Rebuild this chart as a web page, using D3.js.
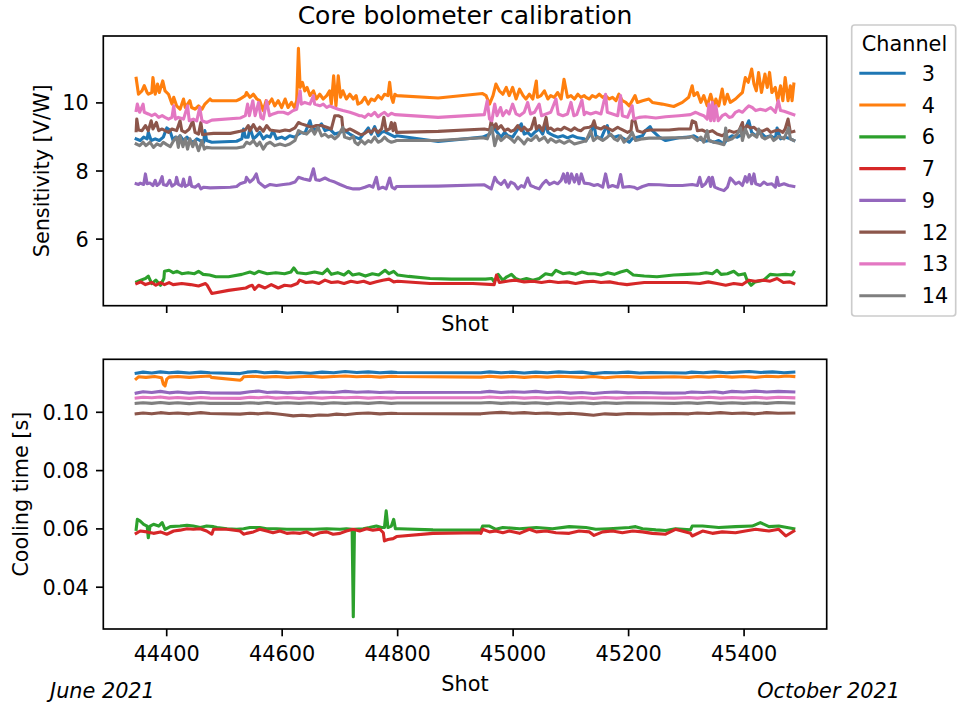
<!DOCTYPE html>
<html><head><meta charset="utf-8">
<script src="https://cdn.jsdelivr.net/npm/d3@7"></script>
<style>body{margin:0;background:#fff} svg{display:block} text{font-family:"DejaVu Sans",sans-serif}</style>
</head><body><svg id="c" width="957" height="706"></svg>
<script>
const channels = ["3","4","6","7","9","12","13","14"];
const shotTicks = [44400,44600,44800,45000,45200,45400];
const sensTicks = [6,8,10];
const coolTicks = [0.04,0.06,0.08,0.10];
const palette = ["#1f77b4","#ff7f0e","#2ca02c","#d62728","#9467bd","#8c564b","#e377c2","#7f7f7f"];

// Sensitivity [V/W] per channel: [shot, value]
const sens3 = [[44348,8.93],[44355,8.88],[44361,8.98],[44367,8.93],[44369,9.12],[44374,8.88],[44381,8.93],[44388,8.88],[44395,8.98],[44401,9.25],[44406,9.19],[44412,8.88],[44416,8.98],[44421,8.93],[44424,9.02],[44430,8.88],[44436,8.98],[44441,8.88],[44447,8.83],[44453,8.93],[44459,8.88],[44465,8.83],[44467,9.17],[44470,8.88],[44479,8.83],[44522,8.86],[44531,8.93],[44534,9.22],[44537,8.98],[44542,8.98],[44545,9.27],[44551,8.93],[44557,9.02],[44562,9.12],[44568,8.93],[44574,9.02],[44580,8.98],[44585,9.17],[44591,8.93],[44600,8.98],[44606,8.93],[44614,9.02],[44623,8.98],[44629,9.07],[44634,9.12],[44640,9.09],[44649,9.46],[44653,9.19],[44660,9.22],[44669,9.37],[44675,9.17],[44683,9.22],[44692,9.07],[44701,9.12],[44709,9.17],[44718,9.07],[44727,8.98],[44735,8.93],
[44744,9.12],[44750,9.25],[44755,9.07],[44761,9.29],[44767,9.02],[44773,9.12],[44778,9.15],[44784,9.09],[44790,9.04],[44796,8.99],[44799,9.02],[44871,8.85],[44948,8.98],[44960,9.07],[44966,9.32],[44971,9.17],[44980,8.98],[44986,9.12],[44992,9.02],[45000,8.98],[45009,9.22],[45015,9.37],[45020,9.07],[45026,9.12],[45032,9.02],[45038,9.12],[45046,9.22],[45052,9.07],[45058,9.37],[45061,9.12],[45066,9.07],[45072,9.02],[45078,8.98],[45087,9.02],[45095,8.96],[45104,9.02],[45113,8.96],[45124,8.93],
[45127,8.88],[45133,9.02],[45141,9.37],[45144,9.02],[45153,8.93],[45159,9.17],[45164,9.32],[45167,9.07],[45176,8.98],[45184,9.02],[45193,8.93],[45202,8.83],[45207,8.93],[45216,8.98],[45225,9.02],[45230,9.17],[45238,9.29],[45242,9.17],[45254,8.98],[45265,8.88],[45288,8.96],[45305,8.98],[45314,9.02],[45323,8.93],[45334,8.86],[45340,8.88],[45349,8.83],[45357,8.88],[45366,8.78],[45372,8.93],[45380,9.02],[45389,8.98],[45398,9.07],[45403,9.22],[45409,9.46],[45414,9.12],[45421,9.02],[45429,9.12],[45438,8.98],[45447,9.02],[45455,8.93],[45458,9.25],[45464,8.93],[45472,8.98],[45481,8.93],[45487,8.88]];
const sens4 = [[44348,10.71],[44352,10.24],[44358,10.34],[44362,10.49],[44367,10.29],[44369,10.24],[44375,10.29],[44377,10.73],[44381,10.24],[44385,10.54],[44388,10.29],[44394,10.63],[44398,10.34],[44404,10.24],[44410,9.95],[44413,10.15],[44418,9.90],[44424,9.80],[44430,10.10],[44433,9.85],[44441,10.05],[44444,9.85],[44450,9.80],[44456,9.90],[44462,9.80],[44467,9.95],[44476,10.10],[44479,10.05],[44522,10.05],[44528,10.10],[44537,10.20],[44539,10.29],[44545,10.15],[44551,10.24],[44557,10.10],[44562,10.05],[44568,9.76],[44573,10.05],[44577,9.95],[44583,10.10],[44588,9.90],[44594,10.05],[44600,9.85],[44606,10.10],[44611,9.85],[44617,10.00],[44622,9.85],[44626,10.05],[44629,11.59],[44632,10.44],[44636,10.59],[44640,10.34],[44644,10.44],[44649,10.20],[44655,10.34],[44660,10.10],[44666,10.24],[44672,10.10],[44678,10.20],[44683,10.34],[44686,9.95],[44690,10.78],[44694,9.90],[44698,10.78],[44702,10.15],[44706,10.34],[44712,10.10],[44718,10.24],[44724,10.10],[44729,10.20],
[44732,9.95],[44738,10.00],[44744,10.15],[44750,9.95],[44755,10.10],[44761,10.05],[44767,10.20],[44773,10.10],[44778,10.24],[44784,10.20],[44787,10.59],[44790,10.15],[44793,10.00],[44796,10.24],[44799,10.20],[44871,10.13],[44948,10.26],[44954,10.20],[44960,9.95],[44966,10.20],[44971,10.54],[44977,10.34],[44983,10.24],[44989,10.44],[44994,10.20],[45000,10.44],[45006,10.10],[45012,10.39],[45018,10.20],[45023,10.10],[45029,10.24],[45035,10.10],[45041,10.63],[45043,10.15],[45049,10.20],[45055,10.34],[45061,10.10],[45066,10.20],[45072,10.15],[45078,10.29],[45084,10.10],[45089,10.68],[45095,10.15],[45101,10.20],[45107,10.10],[45113,10.24],[45118,10.15],[45124,10.20],
[45127,10.15],[45133,10.10],[45138,10.20],[45144,10.15],[45150,10.24],[45156,10.15],[45161,10.20],[45167,10.10],[45173,10.15],[45179,10.05],[45184,10.24],[45190,10.05],[45196,10.00],[45202,9.90],[45207,10.05],[45212,10.20],[45216,10.00],[45225,10.05],[45236,10.10],[45242,10.00],[45259,9.95],[45279,9.88],[45294,10.00],[45305,10.15],[45311,10.49],[45314,10.20],[45320,10.29],[45326,10.00],[45331,10.20],[45337,9.90],[45343,10.24],[45349,9.85],[45352,10.10],[45357,9.90],[45363,10.39],[45367,9.95],[45372,10.24],[45377,10.00],[45386,10.10],[45392,10.20],[45398,10.29],[45403,10.73],[45408,10.59],[45414,10.98],[45418,10.54],[45422,10.34],[45426,10.88],[45431,10.29],[45437,10.83],[45441,10.44],[45445,10.88],[45449,10.29],[45455,10.44],[45459,10.05],[45464,10.49],[45468,10.05],[45472,10.73],[45477,10.05],[45481,10.49],[45484,10.05],[45487,10.54]];
const sens6 = [[44349,4.73],[44356,4.78],[44364,4.83],[44369,4.90],[44375,4.68],[44382,4.78],[44390,4.63],[44396,4.83],[44397,5.04],[44405,5.07],[44412,5.00],[44419,5.04],[44427,4.97],[44438,5.00],[44449,4.97],[44456,5.04],[44464,4.95],[44475,4.93],[44486,4.88],[44508,4.88],[44531,4.95],[44545,5.02],[44553,4.97],[44560,5.04],[44575,4.97],[44590,5.00],[44605,4.97],[44616,5.02],[44621,5.14],[44627,5.00],[44642,4.97],[44657,5.02],[44671,4.97],[44679,5.10],[44686,4.95],[44697,5.00],[44708,4.93],[44716,5.04],[44723,4.93],[44734,4.97],[44745,4.90],[44757,4.97],[44768,4.93],[44779,5.07],[44786,4.97],[44794,5.04],[44801,4.93],[44820,4.89],[44857,4.83],[44894,4.81],[44931,4.81],[44953,4.81],[44964,4.83],[44968,4.73],[44975,4.95],[44983,4.78],[44990,4.88],[44998,4.95],[45005,4.83],[45013,4.78],[45024,4.83],[45035,4.78],[45046,4.83],[45057,4.97],[45068,4.93],[45075,5.07],[45087,4.97],[45098,5.00],[45109,4.95],[45120,5.02],[45131,4.97],[45142,4.97],[45153,4.93],[45165,5.00],[45176,4.95],[45187,5.02],[45198,5.07],[45209,4.93],[45228,4.90],[45250,4.88],[45279,4.93],[45302,4.95],[45324,4.97],[45335,5.00],[45346,4.97],[45354,5.07],[45361,4.95],[45372,4.97],[45383,5.04],[45391,4.93],[45402,4.97],[45406,4.78],[45413,4.63],[45420,4.73],[45435,4.78],[45446,4.95],[45458,4.93],[45473,4.95],[45484,4.93],[45487,5.02]];
const sens7 = [[44349,4.68],[44356,4.73],[44364,4.65],[44375,4.71],[44382,4.63],[44390,4.71],[44397,4.65],[44405,4.71],[44412,4.65],[44427,4.68],[44442,4.65],[44456,4.61],[44468,4.68],[44471,4.63],[44479,4.39],[44508,4.48],[44538,4.55],[44545,4.61],[44549,4.63],[44553,4.51],[44560,4.63],[44571,4.55],[44582,4.65],[44594,4.55],[44605,4.63],[44616,4.61],[44627,4.68],[44631,4.78],[44642,4.71],[44653,4.73],[44664,4.68],[44675,4.78],[44686,4.71],[44697,4.73],[44708,4.68],[44720,4.75],[44731,4.71],[44742,4.75],[44753,4.68],[44764,4.73],[44775,4.78],[44786,4.81],[44794,4.73],[44801,4.75],[44857,4.68],[44931,4.68],[44968,4.65],[44972,4.93],[44977,4.71],[44990,4.75],[45005,4.78],[45020,4.73],[45035,4.75],[45050,4.71],[45064,4.75],[45079,4.71],[45094,4.73],[45109,4.68],[45124,4.73],[45139,4.75],[45153,4.71],[45168,4.73],[45183,4.68],[45198,4.65],[45213,4.68],[45228,4.71],[45265,4.71],[45302,4.71],[45324,4.68],[45339,4.73],[45354,4.68],[45369,4.63],[45383,4.68],[45398,4.65],[45409,4.78],[45420,4.75],[45435,4.78],[45446,4.75],[45458,4.83],[45469,4.71],[45480,4.73],[45487,4.68]];
const sens9 = [[44348,7.61],[44352,7.59],[44355,7.63],[44361,7.59],[44364,7.90],[44367,7.61],[44372,7.63],[44377,7.56],[44381,7.71],[44384,7.56],[44388,7.61],[44393,7.82],[44395,7.59],[44401,7.56],[44406,7.71],[44410,7.54],[44416,7.61],[44418,7.80],[44421,7.59],[44427,7.54],[44430,7.75],[44433,7.53],[44439,7.59],[44441,7.80],[44444,7.54],[44450,7.51],[44456,7.59],[44460,7.46],[44465,7.51],[44476,7.49],[44511,7.51],[44522,7.53],[44528,7.61],[44537,7.66],[44539,7.80],[44545,7.66],[44551,7.75],[44556,7.90],[44560,7.66],[44565,7.59],[44571,7.51],[44580,7.59],[44591,7.56],[44603,7.59],[44614,7.61],[44623,7.66],[44629,7.80],[44638,7.75],[44649,7.71],[44655,8.05],[44659,7.73],[44666,7.71],[44675,7.78],[44683,7.71],[44692,7.66],[44701,7.59],[44712,7.51],[44724,7.46],
[44735,7.46],[44744,7.51],[44752,7.56],[44758,7.51],[44764,7.80],[44768,7.46],[44775,7.51],[44781,7.46],[44787,7.78],[44791,7.51],[44796,7.46],[44799,7.53],[44871,7.54],[44951,7.58],[44963,7.46],[44969,7.80],[44974,7.66],[44980,7.59],[44986,7.71],[44992,7.51],[44997,7.66],[45003,7.61],[45009,7.46],[45015,7.56],[45020,7.51],[45026,7.78],[45031,7.56],[45038,7.51],[45046,7.46],[45052,7.61],[45058,7.71],[45064,7.59],[45072,7.66],[45078,7.61],[45084,7.71],[45088,7.90],[45092,7.66],[45095,7.92],[45098,7.63],[45102,7.90],[45107,7.66],[45111,7.88],[45115,7.61],[45119,7.90],[45124,7.63],
[45133,7.61],[45141,7.56],[45147,7.59],[45156,7.51],[45161,7.90],[45166,7.51],[45173,7.56],[45182,7.51],[45187,7.88],[45191,7.51],[45202,7.53],[45210,7.51],[45216,7.46],[45225,7.53],[45236,7.59],[45254,7.58],[45271,7.56],[45294,7.56],[45311,7.59],[45320,7.56],[45324,7.80],[45328,7.53],[45334,7.61],[45340,7.80],[45343,7.53],[45346,7.80],[45350,7.51],[45357,7.46],[45366,7.41],[45372,7.51],[45377,7.78],[45381,7.71],[45386,7.61],[45392,7.66],[45398,7.56],[45403,7.82],[45406,7.66],[45410,7.88],[45414,7.61],[45418,7.90],[45421,7.61],[45429,7.56],[45435,7.66],[45441,7.59],[45449,7.61],[45455,7.51],[45458,7.80],[45461,7.56],[45470,7.61],[45478,7.56],[45487,7.53]];
const sens12 = [[44348,9.17],[44349,9.51],[44352,9.19],[44358,9.17],[44364,9.32],[44369,9.17],[44374,9.46],[44377,9.22],[44383,9.41],[44387,9.17],[44393,9.22],[44398,9.17],[44404,9.12],[44410,9.22],[44418,9.17],[44424,9.46],[44427,9.17],[44433,9.12],[44440,9.22],[44446,9.46],[44450,9.12],[44456,9.07],[44460,9.41],[44463,9.05],[44470,9.07],[44482,9.09],[44511,9.09],[44528,9.15],[44537,9.19],[44542,9.32],[44545,9.17],[44551,9.35],[44557,9.17],[44562,9.27],[44568,9.15],[44574,9.32],[44580,9.19],[44588,9.17],[44597,9.15],[44606,9.19],[44614,9.17],[44623,9.25],[44629,9.41],[44634,9.37],[44643,9.32],[44652,9.27],[44660,9.32],[44669,9.32],[44678,9.27],[44686,9.22],[44692,9.61],[44698,9.61],[44704,9.56],[44706,9.22],[44712,9.17],[44718,9.22],[44724,9.17],[44735,9.07],
[44738,9.05],[44744,9.09],[44750,9.17],[44755,9.12],[44761,9.22],[44767,9.12],[44773,9.22],[44777,9.56],[44781,9.17],[44787,9.22],[44790,9.41],[44793,9.17],[44796,9.39],[44799,9.12],[44871,9.15],[44951,9.22],[44960,9.19],[44963,9.46],[44966,9.22],[44971,9.37],[44974,9.22],[44980,9.32],[44986,9.17],[44992,9.22],[44997,9.15],[45003,9.19],[45009,9.32],[45015,9.17],[45020,9.27],[45026,9.17],[45032,9.22],[45038,9.54],[45041,9.22],[45046,9.32],[45052,9.17],[45058,9.56],[45061,9.22],[45066,9.25],[45072,9.17],[45078,9.22],[45084,9.19],[45089,9.27],[45095,9.22],[45101,9.17],[45107,9.25],[45113,9.19],[45118,9.17],[45124,9.25],
[45133,9.27],[45138,9.32],[45141,9.46],[45144,9.27],[45153,9.22],[45159,9.29],[45167,9.22],[45173,9.17],[45182,9.27],[45187,9.22],[45193,9.17],[45199,9.12],[45205,9.17],[45207,9.46],[45212,9.46],[45216,9.17],[45225,9.12],[45230,9.17],[45239,9.19],[45254,9.19],[45271,9.19],[45288,9.22],[45308,9.22],[45311,9.46],[45317,9.41],[45320,9.17],[45328,9.19],[45337,9.12],[45346,9.17],[45354,9.07],[45363,9.02],[45369,9.09],[45375,9.17],[45383,9.12],[45392,9.17],[45398,9.41],[45400,9.17],[45406,9.32],[45412,9.25],[45418,9.27],[45423,9.19],[45432,9.15],[45441,9.22],[45447,9.12],[45455,9.17],[45461,9.19],[45468,9.12],[45472,9.22],[45477,9.51],[45481,9.12],[45487,9.15]];
const sens13 = [[44348,9.76],[44350,9.95],[44354,9.71],[44360,9.95],[44362,9.71],[44369,9.66],[44375,9.61],[44381,9.66],[44387,9.56],[44393,9.61],[44398,9.56],[44404,9.51],[44410,9.56],[44413,9.90],[44416,9.51],[44421,9.56],[44430,9.51],[44437,9.90],[44440,9.46],[44447,9.51],[44453,9.46],[44458,9.85],[44462,9.46],[44470,9.41],[44479,9.48],[44528,9.54],[44537,9.61],[44541,9.95],[44544,9.61],[44550,10.05],[44554,9.61],[44560,10.00],[44564,9.56],[44568,9.51],[44574,10.05],[44579,9.61],[44585,9.66],[44594,9.71],[44603,9.71],[44611,9.66],[44620,9.76],[44626,9.80],[44632,10.34],[44634,9.95],[44640,10.00],[44649,9.95],[44655,10.20],[44657,9.95],[44666,9.90],[44672,9.95],[44678,9.85],[44683,9.90],[44690,9.85],[44698,9.80],[44706,9.76],[44718,9.71],[44727,9.66],[44735,9.61],
[44738,9.61],[44744,9.56],[44750,9.66],[44755,9.61],[44761,9.71],[44767,9.58],[44773,9.66],[44778,9.71],[44784,9.61],[44790,9.68],[44796,9.64],[44871,9.56],[44951,9.64],[44956,10.05],[44960,9.51],[44964,9.46],[44969,9.95],[44973,9.61],[44979,9.85],[44983,9.61],[44989,9.76],[44994,9.66],[45000,9.95],[45006,9.66],[45012,9.61],[45020,9.71],[45026,10.00],[45031,9.66],[45038,9.71],[45046,9.95],[45050,9.61],[45058,9.66],[45066,9.71],[45075,10.10],[45079,9.66],[45087,9.61],[45095,9.66],[45101,10.00],[45106,9.61],[45111,9.64],[45120,10.07],[45124,9.64],
[45127,9.71],[45135,9.66],[45144,9.71],[45153,9.66],[45161,10.24],[45164,9.71],[45173,9.66],[45182,9.61],[45187,10.20],[45190,9.61],[45199,9.56],[45207,9.90],[45210,9.51],[45219,9.56],[45230,9.58],[45248,9.54],[45265,9.58],[45288,9.61],[45308,9.64],[45317,9.71],[45323,9.66],[45331,9.61],[45337,9.51],[45340,9.95],[45343,9.46],[45346,10.00],[45349,9.46],[45352,9.90],[45356,9.46],[45363,9.61],[45369,9.66],[45375,9.56],[45380,9.58],[45386,9.71],[45392,9.76],[45398,9.71],[45403,9.80],[45409,9.90],[45415,9.85],[45421,9.76],[45429,9.80],[45438,9.76],[45447,9.85],[45455,9.71],[45460,10.05],[45464,9.76],[45470,9.74],[45475,9.71],[45487,9.64]];
const sens14 = [[44348,8.78],[44354,8.73],[44360,8.83],[44365,8.73],[44372,8.83],[44378,8.68],[44384,8.78],[44390,8.73],[44395,8.83],[44401,8.76],[44407,8.70],[44413,8.88],[44418,8.98],[44421,8.68],[44424,9.02],[44429,8.70],[44433,8.93],[44437,8.63],[44441,8.93],[44446,8.70],[44450,8.88],[44456,8.58],[44462,8.88],[44466,8.63],[44470,8.68],[44479,8.66],[44522,8.66],[44534,8.70],[44539,8.83],[44545,8.78],[44551,8.88],[44557,8.73],[44562,8.83],[44568,8.63],[44574,8.78],[44580,8.83],[44588,8.73],[44597,8.78],[44606,8.73],[44614,8.78],[44623,8.88],[44629,9.17],[44634,9.12],[44643,9.07],[44652,9.22],[44657,9.07],[44663,9.27],[44669,9.02],[44675,9.07],[44681,8.98],[44686,9.02],[44692,8.93],[44698,9.02],[44706,9.27],[44709,8.98],[44718,8.93],[44724,9.00],
[44727,8.83],[44732,8.76],[44738,8.88],[44744,8.78],[44750,8.88],[44755,8.83],[44761,8.98],[44767,8.83],[44773,8.88],[44778,8.98],[44784,8.88],[44790,8.83],[44796,8.86],[44799,8.88],[44871,8.88],[44948,8.96],[44956,8.93],[44964,9.27],[44969,8.73],[44974,9.02],[44980,8.88],[44989,9.02],[44997,8.93],[45003,8.83],[45009,8.98],[45015,8.88],[45020,8.78],[45026,8.93],[45032,8.88],[45041,9.02],[45046,8.88],[45055,8.98],[45061,8.83],[45066,8.93],[45075,8.83],[45081,8.88],[45089,8.80],[45098,8.88],[45107,8.78],[45118,8.83],[45124,8.86],
[45127,8.86],[45135,9.17],[45140,8.88],[45147,8.98],[45156,8.88],[45164,8.98],[45170,9.07],[45176,8.93],[45182,8.88],[45187,9.02],[45193,8.83],[45202,8.98],[45207,9.12],[45213,8.88],[45225,8.93],[45236,8.95],[45254,8.95],[45277,8.96],[45300,8.96],[45311,9.00],[45320,8.88],[45326,8.98],[45331,8.83],[45337,9.17],[45340,8.88],[45349,8.83],[45357,8.80],[45366,8.76],[45369,9.25],[45372,8.88],[45380,8.93],[45389,9.07],[45395,9.25],[45398,8.88],[45403,9.22],[45409,8.98],[45415,9.07],[45423,8.98],[45426,9.22],[45432,8.98],[45437,8.93],[45447,9.02],[45452,8.88],[45461,9.00],[45470,8.93],[45478,9.25],[45481,8.93],[45487,8.88]];

// Cooling time [s] per channel: [shot, value]
const cool3 = [[44348,0.1132],[44360,0.1136],[44375,0.1133],[44390,0.1137],[44405,0.1134],[44420,0.1136],[44440,0.1133],[44460,0.1136],[44476,0.1134],[44528,0.1131],[44540,0.1136],[44555,0.1138],[44570,0.1134],[44590,0.1136],[44610,0.1133],[44630,0.1135],[44650,0.1132],[44670,0.1136],[44690,0.1134],[44710,0.1138],[44730,0.1135],[44750,0.1137],[44770,0.1134],[44790,0.1136],[44800,0.1135],[44945,0.1134],[44960,0.1137],[44980,0.1134],[45000,0.1136],[45020,0.1133],[45040,0.1136],[45060,0.1134],[45080,0.1137],[45100,0.1135],[45120,0.1136],[45140,0.1131],[45160,0.1135],[45180,0.1134],[45200,0.1136],[45220,0.1133],[45240,0.1135],[45300,0.1133],[45310,0.1136],[45330,0.1134],[45350,0.1137],[45370,0.1134],[45390,0.1136],[45410,0.1138],[45430,0.1135],[45450,0.1137],[45470,0.1134],[45487,0.1136]];
const cool4 = [[44348,0.1113],[44352,0.1120],[44365,0.1118],[44380,0.1121],[44392,0.1117],[44395,0.1095],[44398,0.1089],[44401,0.1112],[44405,0.1119],[44420,0.1121],[44440,0.1118],[44460,0.1121],[44476,0.1123],[44478,0.1118],[44528,0.1108],[44531,0.1112],[44534,0.1120],[44550,0.1122],[44570,0.1119],[44590,0.1121],[44610,0.1118],[44630,0.1120],[44650,0.1122],[44670,0.1119],[44690,0.1121],[44710,0.1123],[44730,0.1120],[44750,0.1122],[44770,0.1119],[44790,0.1122],[44800,0.1121],[44945,0.1119],[44960,0.1122],[44980,0.1119],[45000,0.1121],[45020,0.1118],[45040,0.1121],[45060,0.1119],[45080,0.1122],[45100,0.1120],[45120,0.1118],[45140,0.1121],[45160,0.1117],[45180,0.1120],[45200,0.1121],[45220,0.1118],[45250,0.1119],[45280,0.1120],[45305,0.1118],[45320,0.1121],[45340,0.1119],[45360,0.1122],[45380,0.1119],[45400,0.1121],[45420,0.1118],[45440,0.1122],[45460,0.1120],[45475,0.1123],[45487,0.1121]];
const cool6 = [[44348,0.0597],[44350,0.0631],[44355,0.0625],[44361,0.0614],[44367,0.0608],[44369,0.0568],[44372,0.0608],[44378,0.0614],[44387,0.0608],[44393,0.0620],[44398,0.0597],[44407,0.0606],[44424,0.0608],[44436,0.0611],[44447,0.0608],[44459,0.0603],[44470,0.0608],[44482,0.0606],[44488,0.0603],[44505,0.0599],[44522,0.0597],[44534,0.0599],[44545,0.0603],[44562,0.0603],[44574,0.0599],[44591,0.0599],[44609,0.0597],[44632,0.0597],[44655,0.0597],[44678,0.0599],[44701,0.0597],[44712,0.0599],[44722,0.0597],[44724,0.0297],[44726,0.0597],[44741,0.0599],[44752,0.0603],[44764,0.0608],[44773,0.0603],[44778,0.0603],[44781,0.0660],[44784,0.0603],[44790,0.0608],[44794,0.0631],[44797,0.0599],[44804,0.0599],[44862,0.0595],[44943,0.0594],[44945,0.0593],[44948,0.0608],[44960,0.0608],[44971,0.0597],[44983,0.0603],[45012,0.0599],[45041,0.0603],[45069,0.0599],[45098,0.0606],[45127,0.0603],[45144,0.0597],[45167,0.0599],[45202,0.0603],[45213,0.0606],[45225,0.0599],[45248,0.0595],[45265,0.0593],[45282,0.0599],[45308,0.0595],[45311,0.0608],[45329,0.0608],[45357,0.0603],[45386,0.0606],[45415,0.0608],[45429,0.0620],[45444,0.0606],[45461,0.0608],[45487,0.0599]];
const cool7 = [[44348,0.0583],[44355,0.0591],[44367,0.0588],[44378,0.0583],[44390,0.0588],[44401,0.0580],[44413,0.0591],[44424,0.0594],[44436,0.0599],[44447,0.0597],[44459,0.0599],[44470,0.0591],[44479,0.0580],[44482,0.0597],[44505,0.0597],[44528,0.0591],[44534,0.0580],[44539,0.0583],[44551,0.0588],[44562,0.0597],[44574,0.0591],[44585,0.0585],[44597,0.0591],[44609,0.0583],[44620,0.0585],[44632,0.0583],[44643,0.0588],[44655,0.0576],[44666,0.0585],[44678,0.0588],[44689,0.0580],[44701,0.0583],[44712,0.0591],[44724,0.0597],[44735,0.0591],[44747,0.0599],[44758,0.0594],[44770,0.0597],[44776,0.0585],[44778,0.0557],[44784,0.0562],[44793,0.0565],[44799,0.0572],[44862,0.0583],[44943,0.0585],[44945,0.0583],[44948,0.0597],[44960,0.0588],[44971,0.0591],[44983,0.0585],[44994,0.0591],[45012,0.0583],[45029,0.0597],[45041,0.0588],[45058,0.0591],[45075,0.0585],[45098,0.0583],[45115,0.0591],[45133,0.0588],[45141,0.0576],[45156,0.0588],[45173,0.0591],[45190,0.0585],[45208,0.0591],[45225,0.0588],[45242,0.0583],[45265,0.0580],[45282,0.0597],[45308,0.0583],[45311,0.0574],[45329,0.0591],[45346,0.0583],[45363,0.0588],[45386,0.0585],[45403,0.0591],[45421,0.0597],[45444,0.0591],[45461,0.0597],[45473,0.0574],[45487,0.0591]];
const cool9 = [[44348,0.1064],[44360,0.1069],[44375,0.1066],[44390,0.1070],[44405,0.1065],[44420,0.1068],[44440,0.1064],[44460,0.1067],[44476,0.1065],[44528,0.1064],[44545,0.1069],[44560,0.1071],[44575,0.1066],[44590,0.1068],[44610,0.1065],[44630,0.1067],[44650,0.1064],[44670,0.1068],[44690,0.1066],[44710,0.1070],[44730,0.1067],[44750,0.1069],[44770,0.1066],[44790,0.1068],[44800,0.1066],[44945,0.1067],[44960,0.1070],[44980,0.1066],[45000,0.1069],[45020,0.1067],[45040,0.1070],[45060,0.1066],[45080,0.1068],[45100,0.1064],[45120,0.1066],[45140,0.1063],[45160,0.1066],[45180,0.1068],[45200,0.1065],[45230,0.1066],[45260,0.1064],[45300,0.1065],[45310,0.1068],[45330,0.1066],[45350,0.1069],[45365,0.1065],[45380,0.1070],[45400,0.1068],[45420,0.1071],[45440,0.1068],[45460,0.1070],[45487,0.1068]];
const cool12 = [[44348,0.0993],[44360,0.0996],[44375,0.0993],[44390,0.0997],[44405,0.0994],[44420,0.0996],[44440,0.0993],[44460,0.0997],[44476,0.0994],[44528,0.0992],[44545,0.0995],[44560,0.0993],[44575,0.0996],[44590,0.0993],[44605,0.0990],[44620,0.0986],[44635,0.0988],[44650,0.0986],[44665,0.0989],[44680,0.0988],[44695,0.0992],[44710,0.0990],[44730,0.0994],[44750,0.0996],[44770,0.0993],[44790,0.0995],[44800,0.0994],[44945,0.0993],[44960,0.0996],[44980,0.0998],[45000,0.0995],[45020,0.0997],[45040,0.0994],[45060,0.0996],[45080,0.0993],[45100,0.0995],[45120,0.0992],[45140,0.0988],[45160,0.0993],[45180,0.0991],[45200,0.0994],[45240,0.0993],[45280,0.0994],[45305,0.0993],[45320,0.0996],[45340,0.0994],[45360,0.0997],[45380,0.0994],[45400,0.0996],[45420,0.0993],[45440,0.0997],[45460,0.0995],[45487,0.0996]];
const cool13 = [[44348,0.1047],[44360,0.1050],[44375,0.1048],[44390,0.1051],[44405,0.1047],[44420,0.1049],[44440,0.1046],[44460,0.1049],[44476,0.1047],[44528,0.1046],[44545,0.1050],[44560,0.1048],[44575,0.1051],[44590,0.1047],[44610,0.1049],[44630,0.1046],[44650,0.1049],[44670,0.1047],[44690,0.1050],[44710,0.1048],[44730,0.1050],[44750,0.1047],[44770,0.1049],[44790,0.1047],[44800,0.1048],[44945,0.1048],[44960,0.1051],[44980,0.1048],[45000,0.1050],[45020,0.1047],[45040,0.1049],[45060,0.1047],[45080,0.1050],[45100,0.1047],[45120,0.1049],[45140,0.1046],[45160,0.1049],[45180,0.1047],[45200,0.1049],[45240,0.1048],[45280,0.1047],[45305,0.1049],[45320,0.1047],[45340,0.1050],[45360,0.1047],[45380,0.1049],[45400,0.1047],[45420,0.1050],[45440,0.1047],[45460,0.1050],[45487,0.1048]];
const cool14 = [[44348,0.1029],[44360,0.1031],[44375,0.1029],[44390,0.1032],[44405,0.1029],[44420,0.1031],[44440,0.1028],[44460,0.1031],[44476,0.1029],[44528,0.1029],[44545,0.1031],[44560,0.1029],[44575,0.1032],[44590,0.1029],[44610,0.1031],[44630,0.1029],[44650,0.1031],[44670,0.1028],[44690,0.1031],[44710,0.1029],[44730,0.1031],[44750,0.1029],[44770,0.1032],[44790,0.1029],[44800,0.1030],[44945,0.1030],[44960,0.1032],[44980,0.1029],[45000,0.1031],[45020,0.1029],[45040,0.1031],[45060,0.1028],[45080,0.1031],[45100,0.1029],[45120,0.1031],[45140,0.1028],[45160,0.1031],[45180,0.1029],[45200,0.1031],[45240,0.1030],[45280,0.1029],[45305,0.1031],[45320,0.1029],[45340,0.1032],[45360,0.1029],[45380,0.1031],[45400,0.1029],[45420,0.1031],[45440,0.1029],[45460,0.1032],[45487,0.1030]];

const sensSeries = [sens3,sens4,sens6,sens7,sens9,sens12,sens13,sens14].map(s => d3.sort(s, d => d[0]));
const coolSeries = [cool3,cool4,cool6,cool7,cool9,cool12,cool13,cool14].map(s => d3.sort(s, d => d[0]));

const svg = d3.select("#c");
const FS = 20.8, LW = 1.67, TICK = 7.3;
const L = 103.3, R = 826.7;
const topBox = {t: 36, b: 305.7}, botBox = {t: 359.3, b: 629};

function padded(arrs, i) {
  const e = d3.extent(arrs.flat(), d => d[i]);
  const p = (e[1] - e[0]) * 0.05;
  return [e[0] - p, e[1] + p];
}
const x = d3.scaleLinear().domain(padded(sensSeries.concat(coolSeries), 0)).range([L, R]);
const yTop = d3.scaleLinear().domain(padded(sensSeries, 1)).range([topBox.b, topBox.t]);
const yBot = d3.scaleLinear().domain(padded(coolSeries, 1)).range([botBox.b, botBox.t]);

function styleAxis(g) {
  g.attr("font-size", FS).attr("font-family", "DejaVu Sans");
  g.select(".domain").remove();
  g.selectAll(".tick line").attr("stroke", "#000").attr("stroke-width", LW);
  g.selectAll(".tick text").attr("fill", "#000");
}

function panel(box, y, series, yTicks, yFmt, showX) {
  const line = d3.line().x(d => x(d[0])).y(d => y(d[1]));
  const g = svg.append("g");
  series.forEach((s, i) => {
    g.append("path").datum(s).attr("d", line)
      .attr("fill", "none").attr("stroke", palette[i]).attr("stroke-width", 3.1)
      .attr("stroke-linejoin", "round").attr("stroke-linecap", "square");
  });
  svg.append("g").attr("transform", `translate(0,${box.b})`)
    .call(d3.axisBottom(x).tickValues(shotTicks).tickSize(TICK).tickPadding(9.8)
      .tickFormat(showX ? d3.format("d") : () => ""))
    .call(styleAxis);
  svg.append("g").attr("transform", `translate(${L},0)`)
    .call(d3.axisLeft(y).tickValues(yTicks).tickSize(TICK).tickPadding(7.3).tickFormat(yFmt))
    .call(styleAxis)
    .selectAll(".tick text").attr("dy", "0.36em");
  svg.append("rect").attr("x", L).attr("y", box.t).attr("width", R - L).attr("height", box.b - box.t)
    .attr("fill", "none").attr("stroke", "#000").attr("stroke-width", LW);
}

panel(topBox, yTop, sensSeries, sensTicks, d3.format("d"), false);
panel(botBox, yBot, coolSeries, coolTicks, d3.format(".2f"), true);

const cx = (L + R) / 2;
svg.append("text").attr("x", cx).attr("y", 23.5).attr("text-anchor", "middle").attr("font-size", 25).text("Core bolometer calibration");
svg.append("text").attr("x", cx).attr("y", 331).attr("text-anchor", "middle").attr("font-size", FS).text("Shot");
svg.append("text").attr("x", cx).attr("y", 691).attr("text-anchor", "middle").attr("font-size", FS).text("Shot");
svg.append("text").attr("transform", `translate(48.5,${(topBox.t + topBox.b) / 2}) rotate(-90)`).attr("text-anchor", "middle").attr("font-size", FS).text("Sensitivity [V/W]");
svg.append("text").attr("transform", `translate(28.3,${(botBox.t + botBox.b) / 2}) rotate(-90)`).attr("text-anchor", "middle").attr("font-size", FS).text("Cooling time [s]");
svg.append("text").attr("x", 50).attr("y", 698).attr("font-size", FS).attr("font-style", "italic").text("June 2021");
svg.append("text").attr("x", 900).attr("y", 698).attr("text-anchor", "end").attr("font-size", FS).attr("font-style", "italic").text("October 2021");

// Legend
const lg = svg.append("g");
lg.append("rect").attr("x", 851.7).attr("y", 25).attr("width", 104).attr("height", 291).attr("rx", 3)
  .attr("fill", "#fff").attr("stroke", "#cccccc").attr("stroke-width", LW);
lg.append("text").attr("x", 904.5).attr("y", 50.7).attr("text-anchor", "middle").attr("font-size", FS).text("Channel");
channels.forEach((c, i) => {
  const yy = 73.3 + i * 31.77;
  lg.append("line").attr("x1", 859.3).attr("x2", 905.7).attr("y1", yy).attr("y2", yy)
    .attr("stroke", palette[i]).attr("stroke-width", 3.1);
  lg.append("text").attr("x", 921.7).attr("y", yy).attr("dy", "0.36em").attr("font-size", FS).text(c);
});
</script></body></html>
